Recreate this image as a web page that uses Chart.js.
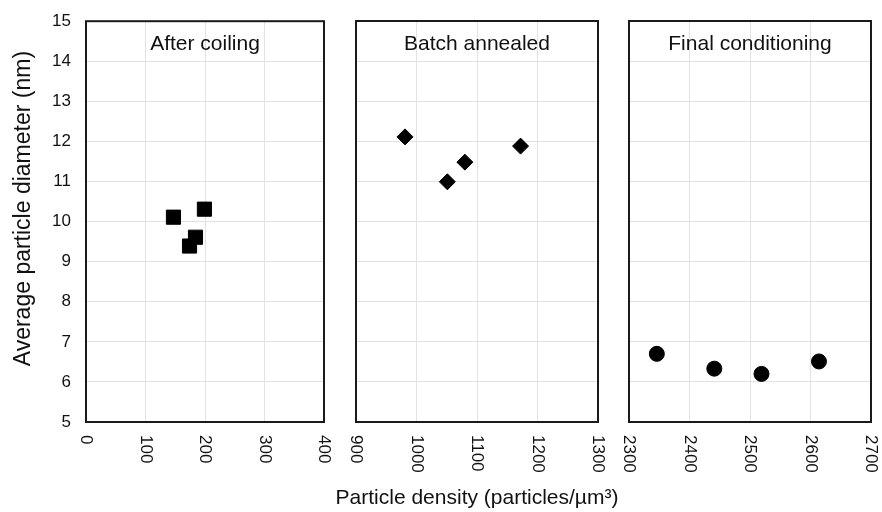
<!DOCTYPE html>
<html>
<head>
<meta charset="utf-8">
<script src="https://cdn.jsdelivr.net/npm/chart.js@4"></script>
<style>
  body { margin: 0; background: #fff; }
  .panel { position: absolute; top: 0; height: 512px; }
</style>
</head>
<body>
<div class="panel" style="left:0px;top:-4px;height:516px;width:335px"><canvas id="panel_coiling"></canvas></div>
<div class="panel" style="left:320px;width:305px"><canvas id="panel_annealed"></canvas></div>
<div class="panel" style="left:613px;width:269px"><canvas id="panel_final"></canvas></div>
<script>
// Datos
const panel_titles = ["After coiling", "Batch annealed", "Final conditioning"];

const coiling_density = [147, 199, 184, 174];
const coiling_diameter = [10.11, 10.31, 9.61, 9.39];

const annealed_density = [981, 1051, 1080, 1172];
const annealed_diameter = [12.11, 10.99, 11.48, 11.88];

const final_density = [2346, 2441, 2519, 2614];
const final_diameter = [6.70, 6.33, 6.20, 6.51];

const x_ranges = [[0, 400], [900, 1300], [2300, 2700]];
const y_range = [5, 15];

const y_title = "Average particle diameter (nm)";
const x_title = "Particle density (particles/µm³)";

Chart.defaults.font.family = "'Liberation Sans', Arial, sans-serif";
Chart.defaults.color = "#111";

const font_family = "'Liberation Sans', Arial, sans-serif";
const grid_color = "#e2e2e2";

function toPoints(xs, ys) {
  return xs.map((x, i) => ({ x: x, y: ys[i] }));
}

// marco negro, titulos y etiquetas del eje x giradas
const panelDecor = {
  id: "panelDecor",
  beforeDatasetsDraw(chart, args, opts) {
    const a = chart.chartArea;
    const ctx = chart.ctx;
    ctx.save();
    ctx.strokeStyle = "#1a1a1a";
    ctx.lineWidth = 2;
    ctx.strokeRect(a.left, a.top, a.right - a.left, a.bottom - a.top);
    ctx.fillStyle = "#111";
    ctx.font = "21px " + font_family;
    ctx.textAlign = "center";
    ctx.textBaseline = "middle";
    ctx.fillText(opts.title, (a.left + a.right) / 2, a.top + 23);
    ctx.restore();
  },
  afterDraw(chart, args, opts) {
    const sx = chart.scales.x;
    const a = chart.chartArea;
    const ctx = chart.ctx;
    ctx.save();
    ctx.fillStyle = "#111";
    ctx.font = "17px " + font_family;
    ctx.textAlign = "left";
    ctx.textBaseline = "middle";
    sx.ticks.forEach(t => {
      ctx.save();
      ctx.translate(sx.getPixelForValue(t.value), a.bottom + 13);
      ctx.rotate(Math.PI / 2);
      ctx.fillText(String(t.value), 0, 0);
      ctx.restore();
    });
    ctx.textAlign = "center";
    if (opts.xTitle) {
      ctx.font = "21px " + font_family;
      ctx.fillText(opts.xTitle, (a.left + a.right) / 2, a.bottom + 76);
    }
    if (opts.yTitle) {
      ctx.font = "23px " + font_family;
      ctx.save();
      ctx.translate(24, (a.top + a.bottom) / 2 - 13);
      ctx.rotate(-Math.PI / 2);
      ctx.fillText(opts.yTitle, 0, 0);
      ctx.restore();
    }
    ctx.restore();
  }
};

function makePanel(canvas_id, idx, data, style, radius, opts) {
  return new Chart(document.getElementById(canvas_id), {
    type: "scatter",
    data: {
      datasets: [{
        data: data,
        pointStyle: style,
        pointRadius: radius,
        pointHoverRadius: radius,
        pointBorderWidth: 1,
        backgroundColor: "#000",
        borderColor: "#000",
      }],
    },
    options: {
      responsive: true,
      maintainAspectRatio: false,
      animation: false,
      layout: { padding: { top: 21, right: opts.padRight, left: opts.padLeft, bottom: 0 } },
      plugins: {
        legend: { display: false },
        tooltip: { enabled: false },
        panelDecor: {
          title: panel_titles[idx],
          xTitle: opts.showXTitle ? x_title : null,
          yTitle: opts.showY ? y_title : null,
        },
      },
      scales: {
        x: {
          type: "linear",
          min: x_ranges[idx][0],
          max: x_ranges[idx][1],
          ticks: { stepSize: 100, display: false },
          grid: { color: grid_color, drawTicks: false },
          border: { display: false },
          afterFit: s => { s.height = 90; },
        },
        y: {
          min: y_range[0],
          max: y_range[1],
          ticks: { stepSize: 1, display: opts.showY, padding: 15, font: { size: 17 } },
          grid: { color: grid_color, drawTicks: false },
          border: { display: false },
          afterFit: s => { s.width = opts.yWidth; },
        },
      },
    },
    plugins: [panelDecor],
  });
}

makePanel("panel_coiling", 0, toPoints(coiling_density, coiling_diameter), "rect", 10,
  { padLeft: 0, padRight: 10, yWidth: 86, showY: true, showXTitle: false });
makePanel("panel_annealed", 1, toPoints(annealed_density, annealed_diameter), "rectRot", 8,
  { padLeft: 20, padRight: 27, yWidth: 16, showY: false, showXTitle: true });
makePanel("panel_final", 2, toPoints(final_density, final_diameter), "circle", 7.5,
  { padLeft: 0, padRight: 11, yWidth: 16, showY: false, showXTitle: false });
</script>
</body>
</html>
